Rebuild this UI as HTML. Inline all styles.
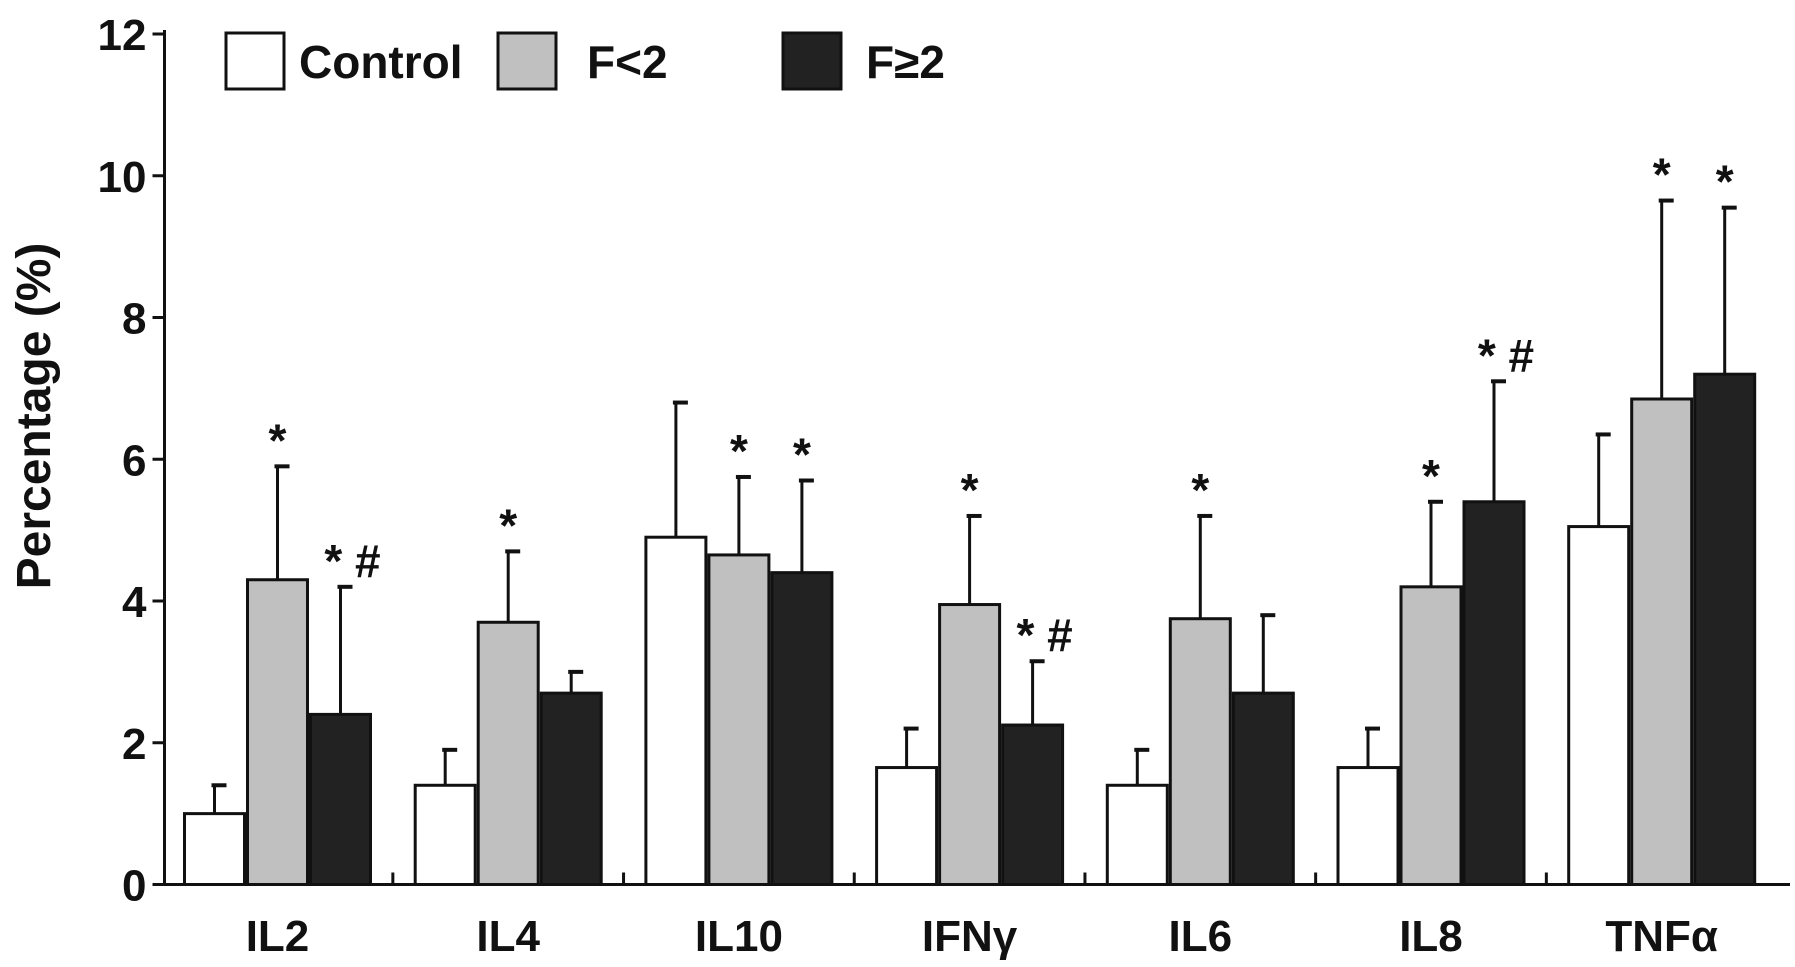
<!DOCTYPE html>
<html><head><meta charset="utf-8"><style>
html,body{margin:0;padding:0;background:#fff;}
svg{display:block;font-family:"Liberation Sans",Arial,sans-serif;font-weight:bold;}
</style></head><body>
<svg id="chart" width="1795" height="967" viewBox="0 0 1795 967"></svg>
<script>
const categories=["IL2","IL4","IL10","IFNγ","IL6","IL8","TNFα"];
const seriesNames=["Control","F<2","F≥2"];
const controlValues=[1.0,1.4,4.9,1.65,1.4,1.65,5.05];
const controlErrTop=[1.4,1.9,6.8,2.2,1.9,2.2,6.35];
const f1Values=[4.3,3.7,4.65,3.95,3.75,4.2,6.85];
const f1ErrTop=[5.9,4.7,5.75,5.2,5.2,5.4,9.65];
const f2Values=[2.4,2.7,4.4,2.25,2.7,5.4,7.2];
const f2ErrTop=[4.2,3.0,5.7,3.15,3.8,7.1,9.55];
const f1Marks=["*","*","*","*","*","*","*"];
const f2Marks=["*#","","*","*#","","*#","*"];
const yTicks=[0,2,4,6,8,10,12];

const NS="http://www.w3.org/2000/svg";
const svg=document.getElementById('chart');
const X0=164.5, Y0=884.5, Ytop=34, YMAX=12;
const xEnd=1790;
const groupW=230.7, firstCenter=277.5, barW=60, barGap=3;
function y(v){return Y0-(v/YMAX)*(Y0-Ytop);}
function gx(i){return firstCenter+i*groupW;}
function mk(tag,attrs,parent){const e=document.createElementNS(NS,tag);for(const k in attrs)e.setAttribute(k,attrs[k]);(parent||svg).appendChild(e);return e;}

const fills=["#ffffff","#c0c0c0","#222222"];
const vals=[controlValues,f1Values,f2Values];
const errs=[controlErrTop,f1ErrTop,f2ErrTop];
const marks=[null,f1Marks,f2Marks];

categories.forEach((c,i)=>{
  const g=mk('g',{});
  
  
  for(let s=0;s<3;s++){
    const cx=gx(i)+(s-1)*(barW+barGap);
    const e=mk('line',{x1:cx,x2:cx,y1:y(vals[s][i]),y2:y(errs[s][i]),stroke:'#111','stroke-width':3},g);
    
    
    const cap=mk('line',{x1:cx-3,x2:cx+12,y1:y(errs[s][i]),y2:y(errs[s][i]),stroke:'#111','stroke-width':4},g);
    
    
    const r=mk('rect',{x:cx-barW/2,y:y(vals[s][i]),width:barW,height:Y0-y(vals[s][i]),fill:fills[s],stroke:'#111','stroke-width':3},g);
    
    
    if(marks[s]&&marks[s][i]){
      const t=mk('text',{x:cx+(marks[s][i].length>1?12:0),y:y(errs[s][i])-10,'text-anchor':'middle','font-size':46,fill:'#111'},g);
      t.textContent=marks[s][i].split('').join(' ');
      
      
    }
  }
  const lab=mk('text',{x:gx(i),y:951,'text-anchor':'middle','font-size':44,fill:'#111'},g);
  lab.textContent=c;
  
  
  if(i>0){
    const tk=mk('line',{x1:gx(i)-groupW/2,x2:gx(i)-groupW/2,y1:Y0,y2:Y0-12,stroke:'#111','stroke-width':3});
    
    
  }
});

const ax=mk('line',{x1:X0,x2:X0,y1:Ytop-4,y2:Y0+1,stroke:'#111','stroke-width':3});


const bx=mk('line',{x1:X0-1,x2:xEnd,y1:Y0,y2:Y0,stroke:'#111','stroke-width':3});


yTicks.forEach(v=>{
  const t=mk('line',{x1:X0-12,x2:X0,y1:y(v),y2:y(v),stroke:'#111','stroke-width':3});
  
  
  const l=mk('text',{x:X0-18,y:y(v)+16,'text-anchor':'end','font-size':44,fill:'#111'});
  l.textContent=v;
  
  
});
const yt=mk('text',{x:0,y:0,transform:'translate(50,416) rotate(-90)','text-anchor':'middle','font-size':48,fill:'#111'});
yt.textContent='Percentage (%)';



const legX=[226,498,783], legTX=[299,587,866];
seriesNames.forEach((n,s)=>{
  const g=mk('g',{});
  
  
  mk('rect',{x:legX[s],y:33,width:58,height:56,fill:fills[s],stroke:'#111','stroke-width':3},g);
  const t=mk('text',{x:legTX[s],y:78,'font-size':46,fill:'#111'},g);
  t.textContent=n;
});
</script>
</body></html>
